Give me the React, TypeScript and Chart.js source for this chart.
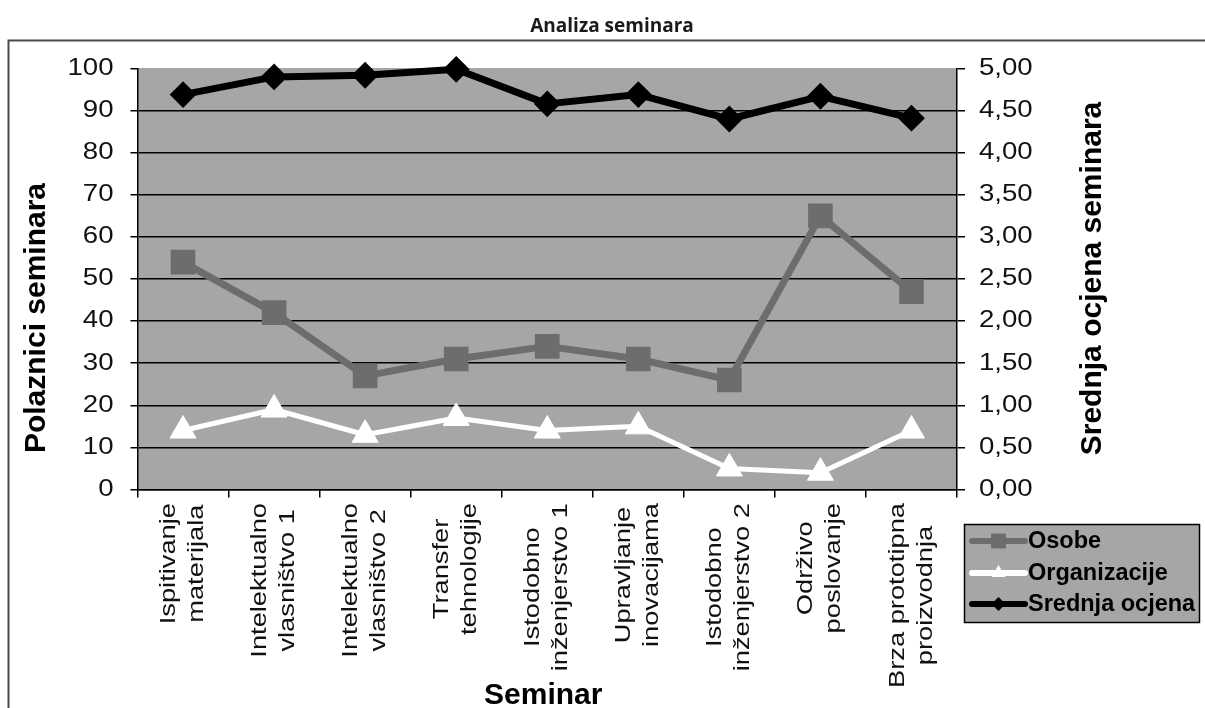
import React, { useEffect, useRef } from "react";
import { Chart, registerables } from "chart.js";

Chart.register(...registerables);

const W = 1205;
const H = 708;

const chartTitle = "Analiza seminara";
const leftAxisTitle = "Polaznici seminara";
const rightAxisTitle = "Srednja ocjena seminara";
const xAxisTitle = "Seminar";

const categories: string[][] = [
  ["Ispitivanje", "materijala"],
  ["Intelektualno", "vlasništvo 1"],
  ["Intelektualno", "vlasništvo 2"],
  ["Transfer", "tehnologije"],
  ["Istodobno", "inženjerstvo 1"],
  ["Upravljanje", "inovacijama"],
  ["Istodobno", "inženjerstvo 2"],
  ["Održivo", "poslovanje"],
  ["Brza prototipna", "proizvodnja"],
];

const seriesNames = ["Osobe", "Organizacije", "Srednja ocjena"];
const osobe = [54, 42, 27, 31, 34, 31, 26, 65, 47];
const organizacije = [14, 19, 13, 17, 14, 15, 5, 4, 14];
const srednjaOcjena = [4.69, 4.9, 4.92, 4.99, 4.58, 4.69, 4.4, 4.67, 4.41];

const leftMin = 0;
const leftMax = 100;
const leftStep = 10;
const rightMin = 0;
const rightMax = 5;
const rightStep = 0.5;

const PLOT_BG = "#a6a6a6";
const OSOBE_C = "#6d6d6d";
const ORG_C = "#ffffff";
const SRED_C = "#000000";
const SANS = '"Liberation Sans", Arial, sans-serif';

const AREA = { left: 137.5, right: 957, top: 68.5, bottom: 489.5 };

function drawMarker(ctx: CanvasRenderingContext2D, style: string, x: number, y: number, r: number, color: string) {
  ctx.save();
  ctx.fillStyle = color;
  ctx.beginPath();
  if (style === "rect") {
    const h = r * Math.SQRT1_2;
    ctx.rect(x - h, y - h, 2 * h, 2 * h);
  } else if (style === "triangle") {
    ctx.moveTo(x, y - r);
    ctx.lineTo(x + r * Math.cos(Math.PI / 6), y + r / 2);
    ctx.lineTo(x - r * Math.cos(Math.PI / 6), y + r / 2);
    ctx.closePath();
  } else {
    ctx.moveTo(x, y - r);
    ctx.lineTo(x + r, y);
    ctx.lineTo(x, y + r);
    ctx.lineTo(x - r, y);
    ctx.closePath();
  }
  ctx.fill();
  ctx.restore();
}

const decorPlugin = {
  id: "decor",
  beforeDraw(chart: any) {
    const { ctx, chartArea: a } = chart;
    ctx.save();
    ctx.fillStyle = "#ffffff";
    ctx.fillRect(0, 0, W, H);
    ctx.strokeStyle = "#4a4a4a";
    ctx.lineWidth = 2;
    ctx.strokeRect(8.5, 40.5, W + 40, H + 40);
    ctx.fillStyle = PLOT_BG;
    ctx.fillRect(a.left, a.top - 0.5, a.right - a.left, a.bottom - a.top + 0.5);
    ctx.restore();
  },
  afterDraw(chart: any) {
    const { ctx, chartArea: a } = chart;
    const yl = chart.scales.y;
    const yr = chart.scales.y1;
    const xs = chart.scales.x;
    ctx.save();

    // chart title
    ctx.fillStyle = "#1a1a1a";
    ctx.font = 'bold 19px "Open Sans", sans-serif';
    ctx.textAlign = "center";
    ctx.textBaseline = "alphabetic";
    ctx.fillText(chartTitle, 612, 32);

    // y tick labels
    ctx.fillStyle = "#111111";
    ctx.font = "23px " + SANS;
    ctx.textBaseline = "middle";
    yl.ticks.forEach((t: any) => {
      const py = yl.getPixelForValue(t.value);
      ctx.save();
      ctx.translate(a.left - 24, py);
      ctx.scale(1.2, 1);
      ctx.textAlign = "right";
      ctx.fillText(String(t.value), 0, 0);
      ctx.restore();
    });
    yr.ticks.forEach((t: any) => {
      const py = yr.getPixelForValue(t.value);
      ctx.save();
      ctx.translate(a.right + 22, py);
      ctx.scale(1.2, 1);
      ctx.textAlign = "left";
      ctx.fillText(t.value.toFixed(2).replace(".", ","), 0, 0);
      ctx.restore();
    });

    // x category labels, rotated, lines centred on each other
    ctx.font = "22px " + SANS;
    ctx.textAlign = "center";
    ctx.textBaseline = "middle";
    const stretch = 1.24;
    const lineGap = 28;
    categories.forEach((lines, i) => {
      const xc = xs.getPixelForValue(i);
      const maxW = Math.max(...lines.map((l) => ctx.measureText(l).width));
      ctx.save();
      ctx.translate(xc, a.bottom + 13.5);
      ctx.rotate(-Math.PI / 2);
      ctx.scale(stretch, 1);
      lines.forEach((l, j) => {
        const off = (j - (lines.length - 1) / 2) * lineGap;
        ctx.fillText(l, -maxW / 2, off);
      });
      ctx.restore();
    });

    // axis titles
    ctx.fillStyle = "#000000";
    ctx.font = "bold 30px " + SANS;
    ctx.textAlign = "center";
    ctx.textBaseline = "alphabetic";
    ctx.save();
    ctx.translate(45, 318);
    ctx.rotate(-Math.PI / 2);
    ctx.fillText(leftAxisTitle, 0, 0);
    ctx.restore();
    ctx.save();
    ctx.translate(1101, 278.5);
    ctx.rotate(-Math.PI / 2);
    ctx.fillText(rightAxisTitle, 0, 0);
    ctx.restore();
    ctx.fillText(xAxisTitle, (a.left + a.right) / 2 - 4, 704);

    // legend
    const lx = 964.5, ly = 524.5, lw = 235, lh = 98;
    ctx.fillStyle = PLOT_BG;
    ctx.fillRect(lx, ly, lw, lh);
    ctx.strokeStyle = "#000";
    ctx.lineWidth = 1.5;
    ctx.strokeRect(lx, ly, lw, lh);
    const rows = [541, 573, 604];
    const markerR = [10.5, 8, 7];
    chart.data.datasets.forEach((ds: any, i: number) => {
      const y = rows[i];
      ctx.strokeStyle = ds.borderColor;
      ctx.lineWidth = 6;
      ctx.lineCap = "round";
      ctx.beginPath();
      ctx.moveTo(972, y);
      ctx.lineTo(1025, y);
      ctx.stroke();
      drawMarker(ctx, ds.pointStyle, 998.5, y, markerR[i], ds.borderColor);
      ctx.fillStyle = "#000";
      ctx.font = "bold 23.5px " + SANS;
      ctx.textAlign = "left";
      ctx.textBaseline = "middle";
      ctx.fillText(ds.label, 1028, y + 1);
    });

    ctx.restore();
  },
};

export default function App() {
  const ref = useRef<HTMLCanvasElement>(null);

  useEffect(() => {
    if (!ref.current) return;
    const axisBorder = { display: true, color: "#000", width: 1.5 };
    const chart = new Chart(ref.current, {
      type: "line",
      data: {
        labels: categories.map((c) => c.join(" ")),
        datasets: [
          {
            label: seriesNames[0],
            data: osobe,
            yAxisID: "y",
            borderColor: OSOBE_C,
            backgroundColor: OSOBE_C,
            borderWidth: 7,
            borderJoinStyle: "round",
            borderCapStyle: "round",
            pointStyle: "rect",
            pointRadius: 16,
            pointBorderWidth: 2,
            pointBackgroundColor: OSOBE_C,
            pointBorderColor: OSOBE_C,
            clip: false,
          },
          {
            label: seriesNames[1],
            data: organizacije,
            yAxisID: "y",
            borderColor: ORG_C,
            backgroundColor: ORG_C,
            borderWidth: 5,
            borderJoinStyle: "round",
            borderCapStyle: "round",
            pointStyle: "triangle",
            pointRadius: 15,
            pointBorderWidth: 1,
            pointBackgroundColor: ORG_C,
            pointBorderColor: ORG_C,
            clip: false,
          },
          {
            label: seriesNames[2],
            data: srednjaOcjena,
            yAxisID: "y1",
            borderColor: SRED_C,
            backgroundColor: SRED_C,
            borderWidth: 7,
            borderJoinStyle: "round",
            borderCapStyle: "round",
            pointStyle: "rectRot",
            pointRadius: 12,
            pointBorderWidth: 2,
            pointBackgroundColor: SRED_C,
            pointBorderColor: SRED_C,
            clip: false,
          },
        ] as any,
      },
      options: {
        responsive: false,
        animation: false,
        events: [],
        layout: { padding: { top: AREA.top, left: 0, right: 0, bottom: 0 } },
        plugins: {
          legend: { display: false },
          title: { display: false },
          tooltip: { enabled: false },
        },
        scales: {
          x: {
            type: "category",
            offset: true,
            grid: {
              offset: true,
              drawOnChartArea: false,
              drawTicks: true,
              tickLength: 8,
              color: "#000",
              lineWidth: 1.5,
            },
            border: axisBorder,
            ticks: { display: false },
            afterFit: (s: any) => {
              s.height = H - AREA.bottom;
            },
          },
          y: {
            position: "left",
            min: leftMin,
            max: leftMax,
            ticks: { display: false, stepSize: leftStep },
            grid: {
              color: (c: any) => (c.tick && c.tick.value === leftMax ? "rgba(0,0,0,0)" : "#000"),
              tickColor: "#000",
              lineWidth: 1.5,
              tickLength: 7,
            },
            border: axisBorder,
            afterFit: (s: any) => {
              s.width = AREA.left;
            },
          },
          y1: {
            position: "right",
            min: rightMin,
            max: rightMax,
            ticks: { display: false, stepSize: rightStep },
            grid: {
              drawOnChartArea: false,
              color: "#000",
              tickColor: "#000",
              lineWidth: 1.5,
              tickLength: 8,
            },
            border: axisBorder,
            afterFit: (s: any) => {
              s.width = W - AREA.right;
            },
          },
        },
      } as any,
      plugins: [decorPlugin],
    });
    return () => chart.destroy();
  }, []);

  return (
    <div style={{ position: "absolute", left: 0, top: 0, width: W, height: H, background: "#fff" }}>
      <canvas ref={ref} width={W} height={H} style={{ width: W, height: H, display: "block" }} />
    </div>
  );
}
